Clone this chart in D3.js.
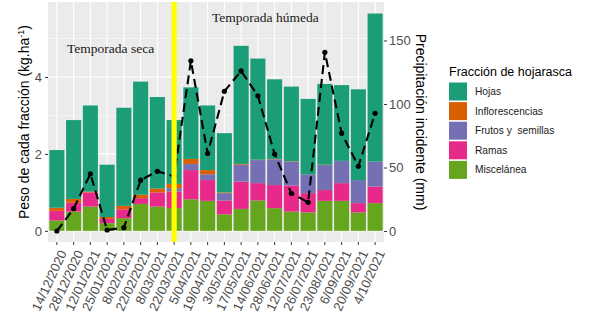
<!DOCTYPE html>
<html>
<head>
<meta charset="utf-8">
<title>Hojarasca</title>
<style>
  body, html { margin: 0; padding: 0; background: #fff; }
  svg { display: block; font-family: "Liberation Sans", Arial, sans-serif; }
</style>
</head>
<body>
<svg id="svg" width="589" height="329"></svg>
<script src="https://cdn.jsdelivr.net/npm/d3@7"></script>
<script>
  // sampling dates
  const dates = ['14/12/2020', '28/12/2020', '12/01/2021', '25/01/2021', '8/02/2021', '22/02/2021',
    '8/03/2021', '22/03/2021', '5/04/2021', '19/04/2021', '3/05/2021', '17/05/2021', '14/06/2021',
    '28/06/2021', '12/07/2021', '26/07/2021', '23/08/2021', '6/09/2021', '20/09/2021', '4/10/2021']

  // weight of each fraction (kg.ha-1), bottom to top of the stack
  const miscelanea = [0.27, 0.50, 0.63, 0.20, 0.33, 0.70, 0.63, 0.59, 0.82, 0.78, 0.43, 0.57, 0.79, 0.59, 0.50, 0.48, 0.78, 0.78, 0.48, 0.72]
  const ramas = [0.25, 0.23, 0.37, 0.11, 0.23, 0.15, 0.37, 0.43, 0.76, 0.54, 0.36, 0.71, 0.45, 0.60, 0.68, 0.50, 0.28, 0.46, 0.24, 0.43]
  const frutos = [0, 0, 0, 0, 0, 0, 0, 0.09, 0.16, 0.15, 0.19, 0.44, 0.60, 0.67, 0.62, 0.49, 0.65, 0.58, 0.60, 0.65]
  const inflorescencias = [0.08, 0.10, 0.02, 0.05, 0.09, 0.09, 0.10, 0.11, 0.13, 0.11, 0.02, 0.02, 0.01, 0.01, 0.01, 0, 0.01, 0, 0, 0]
  const hojas = [1.50, 2.05, 2.24, 1.36, 2.55, 2.94, 2.38, 1.66, 1.86, 1.68, 1.54, 3.07, 2.63, 2.07, 1.94, 1.96, 2.10, 1.97, 2.36, 3.85]

  // incident precipitation (mm)
  const precip = [0, 17.6, 45, 0.8, 2.6, 40, 47, 43, 134, 61, 110, 126, 106.5, 60.6, 29.7, 22.6, 140.7, 77, 51, 92.7]

  const leftTicks = [0, 2, 4]
  const rightTicks = [0, 50, 100, 150]
  const seasonBreak = '22/03/2021'

  const fractions = [
    { key: 'Miscelánea', values: miscelanea, color: '#66A61E' },
    { key: 'Ramas', values: ramas, color: '#E7298A' },
    { key: 'Frutos y  semillas', values: frutos, color: '#7570B3' },
    { key: 'Inflorescencias', values: inflorescencias, color: '#D95F02' },
    { key: 'Hojas', values: hojas, color: '#1B9E77' }
  ]

  const panel = { left: 48, right: 384, top: 2, bottom: 242 }
  const svg = d3.select('#svg')

  const x = d3.scaleBand()
    .domain(dates)
    .range([panel.left, panel.right])
    .paddingInner(0.1)
    .paddingOuter(0.08)
  const y = d3.scaleLinear()
    .domain([-0.29, 5.95])
    .range([panel.bottom, panel.top])
  const y2 = d3.scaleLinear()
    .domain([-8.66, 180.3])
    .range([panel.bottom, panel.top])

  // panel background + grid
  svg.append('rect')
    .attr('x', panel.left).attr('y', panel.top)
    .attr('width', panel.right - panel.left).attr('height', panel.bottom - panel.top)
    .attr('fill', '#EBEBEB')

  const grid = svg.append('g')
  grid.selectAll('.minor')
    .data([1, 3, 5])
    .join('line')
    .attr('x1', panel.left).attr('x2', panel.right)
    .attr('y1', d => y(d)).attr('y2', d => y(d))
    .attr('stroke', '#fff').attr('stroke-width', 0.55)
  grid.selectAll('.major')
    .data(leftTicks)
    .join('line')
    .attr('x1', panel.left).attr('x2', panel.right)
    .attr('y1', d => y(d)).attr('y2', d => y(d))
    .attr('stroke', '#fff').attr('stroke-width', 1.1)
  grid.selectAll('.vert')
    .data(dates)
    .join('line')
    .attr('x1', d => x(d) + x.bandwidth() / 2).attr('x2', d => x(d) + x.bandwidth() / 2)
    .attr('y1', panel.top).attr('y2', panel.bottom)
    .attr('stroke', '#fff').attr('stroke-width', 1.1)

  // stacked bars
  const rows = dates.map((d, i) => {
    const r = { date: d }
    fractions.forEach(f => { r[f.key] = f.values[i] })
    return r
  })
  const stack = d3.stack().keys(fractions.map(f => f.key))(rows)
  const bars = svg.append('g')
  stack.forEach((layer, li) => {
    bars.append('g')
      .attr('fill', fractions[li].color)
      .selectAll('rect')
      .data(layer)
      .join('rect')
      .attr('x', d => x(d.data.date))
      .attr('width', x.bandwidth())
      .attr('y', d => y(d[1]))
      .attr('height', d => Math.max(0, y(d[0]) - y(d[1])))
  })

  // precipitation line
  const linegen = d3.line()
    .x((d, i) => x(dates[i]) + x.bandwidth() / 2)
    .y(d => y2(d))
  svg.append('path')
    .attr('d', linegen(precip))
    .attr('fill', 'none')
    .attr('stroke', '#000')
    .attr('stroke-width', 2.1)
    .attr('stroke-dasharray', '9,5')
  svg.append('g')
    .selectAll('circle')
    .data(precip)
    .join('circle')
    .attr('cx', (d, i) => x(dates[i]) + x.bandwidth() / 2)
    .attr('cy', d => y2(d))
    .attr('r', 2.6)
    .attr('fill', '#000')

  // season divider
  svg.append('rect')
    .attr('x', x(seasonBreak) + x.bandwidth() / 2 - 2.6)
    .attr('y', panel.top)
    .attr('width', 5.2)
    .attr('height', panel.bottom - panel.top)
    .attr('fill', '#FFFF00')

  // season labels
  svg.append('text')
    .attr('x', 67).attr('y', 53)
    .attr('font-family', '"Liberation Serif", "Times New Roman", serif')
    .attr('font-size', 13.5)
    .attr('fill', '#1a1a1a')
    .text('Temporada seca')
  svg.append('text')
    .attr('x', 212).attr('y', 22)
    .attr('font-family', '"Liberation Serif", "Times New Roman", serif')
    .attr('font-size', 13.5)
    .attr('fill', '#1a1a1a')
    .text('Temporada húmeda')

  // axes
  const axisColor = '#4D4D4D'
  const leftAxis = svg.append('g')
    .attr('transform', `translate(${panel.left}, 0)`)
    .call(d3.axisLeft(y).tickValues(leftTicks).tickFormat(d3.format('d')).tickSize(3).tickPadding(3))
  const rightAxis = svg.append('g')
    .attr('transform', `translate(${panel.right}, 0)`)
    .call(d3.axisRight(y2).tickValues(rightTicks).tickFormat(d3.format('d')).tickSize(3).tickPadding(2))
  const bottomAxis = svg.append('g')
    .attr('transform', `translate(0, ${panel.bottom})`)
    .call(d3.axisBottom(x).tickSize(3).tickSizeOuter(0))

  ;[leftAxis, rightAxis, bottomAxis].forEach(a => {
    a.select('.domain').remove()
    a.selectAll('line').attr('stroke', '#333').attr('stroke-width', 1)
    a.selectAll('text').attr('fill', axisColor).attr('font-size', 13)
      .attr('font-family', '"Liberation Sans", Arial, sans-serif')
  })
  bottomAxis.selectAll('text')
    .attr('text-anchor', 'end')
    .attr('dy', '0.35em')
    .attr('transform', 'translate(6, 9) rotate(-65)')
    .attr('y', 0)
    .attr('x', 0)

  // axis titles
  svg.append('text')
    .attr('transform', `translate(29, ${(panel.top + panel.bottom) / 2}) rotate(-90)`)
    .attr('text-anchor', 'middle')
    .attr('font-size', 14)
    .attr('fill', '#000')
    .call(t => {
      t.append('tspan').text('Peso de cada fracción (kg.ha')
      t.append('tspan').attr('font-size', 9).attr('dy', -5).text('-1')
      t.append('tspan').attr('dy', 5).text(')')
    })
  svg.append('text')
    .attr('transform', `translate(416, ${(panel.top + panel.bottom) / 2}) rotate(90)`)
    .attr('text-anchor', 'middle')
    .attr('font-size', 14)
    .attr('fill', '#000')
    .text('Precipitación incidente (mm)')

  // legend
  const legend = svg.append('g').attr('transform', 'translate(449, 0)')
  legend.append('text')
    .attr('x', 0).attr('y', 76)
    .attr('font-size', 12.5)
    .attr('fill', '#000')
    .text('Fracción de hojarasca')
  const legendItems = fractions.slice().reverse()
  const li = legend.selectAll('.item')
    .data(legendItems)
    .join('g')
    .attr('transform', (d, i) => `translate(0, ${82.5 + i * 19.6})`)
  li.append('rect')
    .attr('width', 18).attr('height', 18)
    .attr('fill', d => d.color)
  li.append('text')
    .attr('x', 26).attr('y', 9).attr('dy', '0.35em')
    .attr('font-size', 10.2)
    .attr('fill', '#1a1a1a')
    .style('white-space', 'pre')
    .text(d => d.key)
</script>
</body>
</html>
